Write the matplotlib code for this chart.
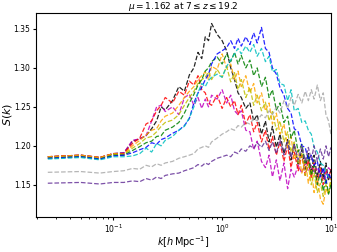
import matplotlib
matplotlib.use("Agg")
import matplotlib.pyplot as plt

# wavenumber grid shared by all curves
k = [0.025, 0.05, 0.075, 0.1, 0.125, 0.15, 0.175, 0.2, 0.225, 0.25, 0.275, 0.3,
     0.35, 0.4, 0.45, 0.5, 0.55, 0.6, 0.65, 0.7, 0.75, 0.8, 0.9, 1.0,
     1.1, 1.2, 1.3, 1.4, 1.5, 1.65, 1.8, 1.95, 2.1, 2.3, 2.5, 2.7,
     2.9, 3.15, 3.4, 3.7, 4.0, 4.3, 4.6, 5.0, 5.4, 5.8, 6.2, 6.6,
     7.0, 7.5, 8.0, 8.5, 9.0, 9.5, 10.0]

s_black = [1.186, 1.188, 1.185, 1.190, 1.191, 1.206, 1.209, 1.213, 1.222, 1.232, 1.250, 1.246,
           1.258, 1.276, 1.270, 1.291, 1.300, 1.320, 1.312, 1.340, 1.335, 1.357, 1.343, 1.335,
           1.322, 1.300, 1.285, 1.268, 1.262, 1.248, 1.255, 1.232, 1.240, 1.215, 1.232, 1.205,
           1.225, 1.198, 1.215, 1.190, 1.208, 1.182, 1.202, 1.175, 1.195, 1.170, 1.190, 1.165,
           1.188, 1.160, 1.180, 1.158, 1.178, 1.155, 1.170]
s_magenta = [1.186, 1.188, 1.185, 1.190, 1.191, 1.207, 1.209, 1.213, 1.232, 1.250, 1.252, 1.244,
             1.250, 1.240, 1.262, 1.266, 1.252, 1.262, 1.248, 1.260, 1.250, 1.265, 1.260, 1.272,
             1.255, 1.265, 1.245, 1.240, 1.245, 1.220, 1.218, 1.195, 1.206, 1.180, 1.172, 1.188,
             1.160, 1.182, 1.155, 1.178, 1.145, 1.170, 1.160, 1.175, 1.165, 1.178, 1.168, 1.175,
             1.165, 1.172, 1.162, 1.170, 1.163, 1.172, 1.168]
s_red = [1.186, 1.188, 1.185, 1.190, 1.190, 1.203, 1.210, 1.228, 1.232, 1.245, 1.252, 1.262,
         1.255, 1.270, 1.265, 1.283, 1.278, 1.290, 1.272, 1.268, 1.255, 1.252, 1.265, 1.248,
         1.262, 1.250, 1.258, 1.240, 1.252, 1.228, 1.240, 1.218, 1.230, 1.205, 1.220, 1.195,
         1.212, 1.188, 1.205, 1.180, 1.200, 1.172, 1.192, 1.168, 1.188, 1.162, 1.182, 1.158,
         1.178, 1.152, 1.172, 1.150, 1.168, 1.158, 1.170]
s_orange = [1.186, 1.188, 1.185, 1.190, 1.189, 1.200, 1.207, 1.214, 1.220, 1.222, 1.232, 1.238,
            1.242, 1.252, 1.262, 1.270, 1.276, 1.285, 1.290, 1.295, 1.285, 1.302, 1.298, 1.318,
            1.300, 1.305, 1.285, 1.296, 1.276, 1.290, 1.268, 1.280, 1.255, 1.268, 1.245, 1.255,
            1.228, 1.242, 1.215, 1.228, 1.198, 1.212, 1.182, 1.195, 1.165, 1.182, 1.152, 1.170,
            1.140, 1.158, 1.132, 1.125, 1.145, 1.138, 1.160]
s_yellow = [1.185, 1.187, 1.184, 1.189, 1.189, 1.197, 1.203, 1.210, 1.212, 1.218, 1.225, 1.230,
            1.233, 1.240, 1.252, 1.262, 1.270, 1.280, 1.285, 1.288, 1.295, 1.285, 1.298, 1.288,
            1.302, 1.282, 1.294, 1.272, 1.285, 1.262, 1.275, 1.252, 1.265, 1.245, 1.256, 1.232,
            1.244, 1.220, 1.232, 1.205, 1.218, 1.192, 1.205, 1.178, 1.190, 1.162, 1.176, 1.150,
            1.165, 1.140, 1.152, 1.135, 1.150, 1.138, 1.155]
s_green = [1.184, 1.186, 1.183, 1.188, 1.188, 1.194, 1.199, 1.204, 1.206, 1.212, 1.213, 1.220,
           1.224, 1.230, 1.242, 1.255, 1.266, 1.278, 1.285, 1.296, 1.300, 1.308, 1.314, 1.305,
           1.318, 1.308, 1.320, 1.305, 1.316, 1.300, 1.310, 1.290, 1.300, 1.276, 1.288, 1.262,
           1.272, 1.246, 1.255, 1.230, 1.238, 1.210, 1.220, 1.192, 1.202, 1.178, 1.188, 1.162,
           1.175, 1.150, 1.165, 1.142, 1.158, 1.138, 1.150]
s_blue = [1.184, 1.186, 1.183, 1.187, 1.188, 1.191, 1.195, 1.198, 1.204, 1.202, 1.208, 1.210,
          1.216, 1.220, 1.226, 1.235, 1.255, 1.268, 1.275, 1.285, 1.292, 1.305, 1.318, 1.322,
          1.326, 1.335, 1.325, 1.338, 1.328, 1.340, 1.330, 1.345, 1.332, 1.352, 1.325, 1.320,
          1.300, 1.292, 1.275, 1.265, 1.248, 1.242, 1.222, 1.218, 1.200, 1.198, 1.182, 1.188,
          1.175, 1.180, 1.160, 1.172, 1.152, 1.165, 1.158]
s_cyan = [1.183, 1.185, 1.182, 1.186, 1.186, 1.187, 1.190, 1.197, 1.192, 1.203, 1.200, 1.207,
          1.212, 1.220, 1.225, 1.236, 1.250, 1.268, 1.280, 1.276, 1.284, 1.288, 1.292, 1.288,
          1.302, 1.310, 1.318, 1.325, 1.318, 1.328, 1.320, 1.330, 1.315, 1.325, 1.308, 1.315,
          1.295, 1.298, 1.280, 1.278, 1.258, 1.272, 1.245, 1.248, 1.230, 1.232, 1.220, 1.215,
          1.198, 1.192, 1.178, 1.175, 1.165, 1.160, 1.158]
s_gray = [1.166, 1.167, 1.165, 1.167, 1.168, 1.171, 1.170, 1.175, 1.173, 1.177, 1.175, 1.178,
          1.180, 1.184, 1.186, 1.188, 1.190, 1.196, 1.198, 1.200, 1.198, 1.205, 1.210, 1.215,
          1.218, 1.222, 1.220, 1.226, 1.224, 1.230, 1.228, 1.235, 1.232, 1.240, 1.236, 1.245,
          1.240, 1.250, 1.242, 1.258, 1.248, 1.262, 1.252, 1.266, 1.255, 1.270, 1.258, 1.272,
          1.260, 1.278, 1.258, 1.268, 1.240, 1.232, 1.215]
s_purple = [1.152, 1.153, 1.151, 1.153, 1.153, 1.155, 1.154, 1.158, 1.156, 1.160, 1.158, 1.162,
            1.164, 1.165, 1.168, 1.170, 1.172, 1.176, 1.174, 1.178, 1.176, 1.180, 1.184, 1.186,
            1.188, 1.186, 1.192, 1.190, 1.196, 1.193, 1.200, 1.197, 1.204, 1.198, 1.206, 1.194,
            1.205, 1.190, 1.208, 1.188, 1.205, 1.185, 1.202, 1.182, 1.200, 1.180, 1.198, 1.182,
            1.200, 1.180, 1.196, 1.183, 1.200, 1.186, 1.198]

curves = [(s_black, "k"), (s_magenta, "m"), (s_red, "r"), (s_orange, "orange"),
          (s_yellow, "y"), (s_green, "g"), (s_blue, "b"), (s_cyan, "c"),
          (s_gray, "darkgray"), (s_purple, "rebeccapurple")]

fig = plt.figure(figsize=(3.37, 2.52), dpi=100)
ax = fig.add_axes([0.107, 0.14, 0.875, 0.81])

for s, c in curves:
    ax.plot(k, s, "--", color=c, lw=0.9, alpha=0.85)

ax.set_xscale("log")
ax.set_xlim(0.0195, 10)
ax.set_ylim(1.109, 1.371)
ax.set_yticks([1.15, 1.20, 1.25, 1.30, 1.35])
ax.tick_params(labelsize=5.5, pad=1.5, length=2.5)
ax.tick_params(which="minor", length=1.5)
ax.set_title(r"$\mu = 1.162$ at $7 \leq z \leq 19.2$", fontsize=6.5, pad=2)
ax.set_xlabel(r"$k[h\,\mathrm{Mpc}^{-1}]$", fontsize=7, labelpad=0)
ax.set_ylabel(r"$S(k)$", fontsize=8, labelpad=0)

fig.savefig("out.png", dpi=100)
